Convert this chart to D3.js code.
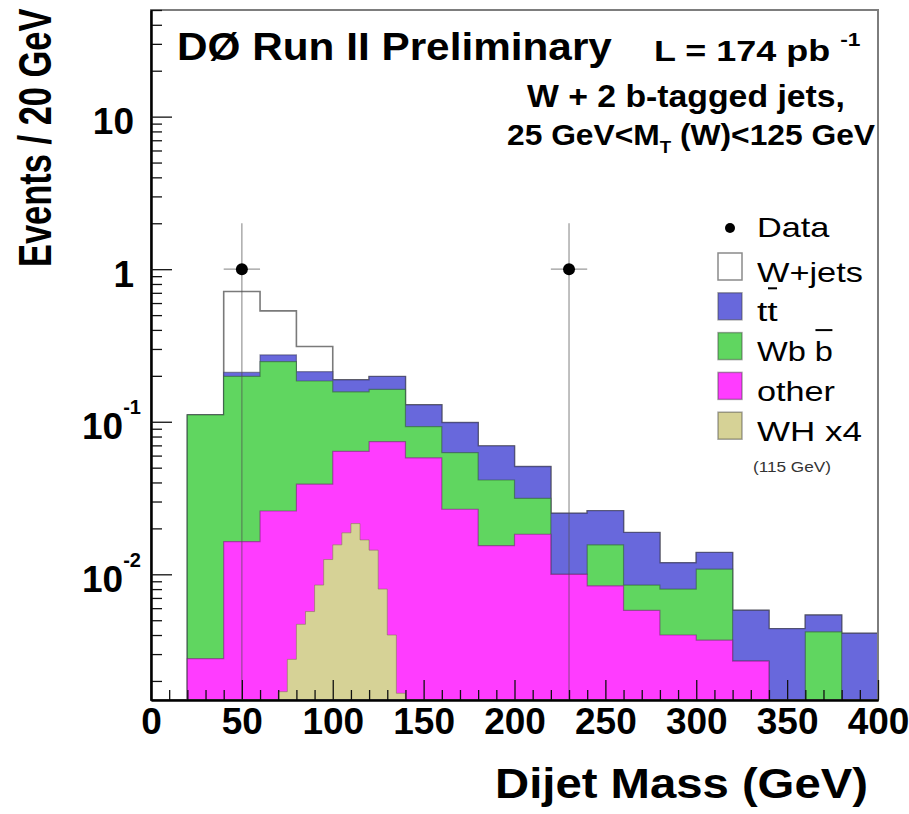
<!DOCTYPE html>
<html>
<head>
<meta charset="utf-8">
<script src="https://cdn.jsdelivr.net/npm/d3@7"></script>
<style>
  body { margin: 0; background: #fff; }
  svg { display: block; }
</style>
</head>
<body>
<svg id="chart" width="909" height="814"></svg>
<script>
// ---- Histogram contents (events per 20 GeV bin, lower bin edges in GeV) ----
const binLow = [20, 40, 60, 80, 100, 120, 140, 160, 180, 200, 220, 240, 260, 280, 300, 320, 340, 360, 380];
const binWidth = 20;
const otherBkg = [0.0028, 0.0164, 0.026, 0.039, 0.064, 0.074, 0.058, 0.0267, 0.0154, 0.0183, 0.0100, 0.0084, 0.0058, 0.0040, 0.0037, 0.0027, 0, 0, 0];
const wbbBkg   = [0.108, 0.182, 0.222, 0.146, 0.093, 0.089, 0.035, 0.036, 0.0261, 0.0132, 0, 0.0072, 0.0027, 0.0040, 0.0071, 0, 0, 0.0042, 0];
const ttbarBkg = [0, 0.012, 0.026, 0.028, 0.031, 0.035, 0.036, 0.036, 0.0279, 0.0193, 0.0151, 0.0105, 0.0103, 0.0039, 0.0031, 0.0031, 0.0044, 0.0012, 0.0041];
const wjetsBkg = [0, 0.503, 0.259, 0.098, 0, 0, 0, 0, 0, 0, 0, 0, 0, 0, 0, 0, 0, 0, 0];

// WH signal (m_H = 115 GeV) scaled by 4, 5 GeV bins
const whLow = [70, 75, 80, 85, 90, 95, 100, 105, 110, 115, 120, 125, 130, 135];
const whWidth = 5;
const whX4 = [0.0017, 0.00277, 0.0047, 0.0057, 0.0085, 0.0125, 0.0156, 0.0187, 0.0215, 0.0168, 0.0144, 0.0080, 0.0040, 0.00166];

// Observed events
const dataMass = [50, 230];
const dataEvents = [1, 1];
const dataErrUp = [1, 1];

// Axis ticks
const xMajorTicks = [0, 50, 100, 150, 200, 250, 300, 350, 400];
const yMajorTicks = [10, 1, 0.1, 0.01];
const yTickBase = ["10", "1", "10", "10"];
const yTickExp = ["", "", "-1", "-2"];

// Legend
const legendLabels = ["W+jets", "tt", "Wb b", "other", "WH x4"];
const legendWidths = [106, 21, 76, 78, 105];

const COLORS = {
  wjets: "#ffffff",
  ttbar: "#6868dc",
  wbb: "#60d660",
  other: "#ff3cff",
  wh: "#d6d296"
};
const FONT = "'Liberation Sans', Arial, Helvetica, sans-serif";

const svg = d3.select("#chart");
const W = 909, H = 814;
const plot = { left: 151, right: 878, top: 10, bottom: 700 };

const x = d3.scaleLinear().domain([0, 400]).range([plot.left, plot.right]);
const y = d3.scaleLog().domain([0.0015, 50]).range([plot.bottom, plot.top]).clamp(true);
const yv = v => (v > 0 ? y(v) : plot.bottom);

svg.append("rect").attr("width", W).attr("height", H).attr("fill", "#fff");

svg.append("defs").append("clipPath").attr("id", "plotClip")
  .append("rect")
  .attr("x", plot.left).attr("y", plot.top)
  .attr("width", plot.right - plot.left).attr("height", plot.bottom - plot.top);

const area = svg.append("g").attr("clip-path", "url(#plotClip)");

// Step outline of a histogram, closed down to the bottom of the frame
function stepPath(lows, width, vals) {
  const p = d3.path();
  p.moveTo(x(lows[0]), plot.bottom);
  lows.forEach((lo, i) => {
    p.lineTo(x(lo), yv(vals[i]));
    p.lineTo(x(lo + width), yv(vals[i]));
  });
  p.lineTo(x(lows[lows.length - 1] + width), plot.bottom);
  p.closePath();
  return p.toString();
}

// Cumulative stack: other, +Wbb, +ttbar, +W+jets
const cumOther = otherBkg.slice();
const cumWbb = cumOther.map((v, i) => v + wbbBkg[i]);
const cumTt = cumWbb.map((v, i) => v + ttbarBkg[i]);
const cumWj = cumTt.map((v, i) => v + wjetsBkg[i]);

const stackLayers = [
  { vals: cumWj, fill: COLORS.wjets, stroke: "#7a7a7a", sw: 1.6 },
  { vals: cumTt, fill: COLORS.ttbar, stroke: "rgba(50,50,90,0.55)", sw: 1.2 },
  { vals: cumWbb, fill: COLORS.wbb, stroke: "rgba(40,80,40,0.5)", sw: 1.2 },
  { vals: cumOther, fill: COLORS.other, stroke: "rgba(110,20,110,0.5)", sw: 1.2 }
];

area.selectAll("path.stack")
  .data(stackLayers)
  .join("path")
  .attr("class", "stack")
  .attr("d", d => stepPath(binLow, binWidth, d.vals))
  .attr("fill", d => d.fill)
  .attr("stroke", d => d.stroke)
  .attr("stroke-width", d => d.sw);

area.append("path")
  .attr("d", stepPath(whLow, whWidth, whX4))
  .attr("fill", COLORS.wh)
  .attr("stroke", "rgba(120,115,70,0.5)")
  .attr("stroke-width", 1);

// Data points with error bars
const dataPts = dataMass.map((m, i) => ({ m, v: dataEvents[i], up: dataErrUp[i] }));
const dataG = area.append("g");
dataG.selectAll("line.eh").data(dataPts).join("line")
  .attr("x1", d => x(d.m - binWidth / 2)).attr("x2", d => x(d.m + binWidth / 2))
  .attr("y1", d => y(d.v)).attr("y2", d => y(d.v))
  .attr("stroke", "#9a9a9a").attr("stroke-width", 1.2);
dataG.selectAll("line.ev").data(dataPts).join("line")
  .attr("x1", d => x(d.m)).attr("x2", d => x(d.m))
  .attr("y1", d => y(d.v + d.up)).attr("y2", plot.bottom)
  .attr("stroke", "rgba(80,80,80,0.6)").attr("stroke-width", 1.2);
dataG.selectAll("circle").data(dataPts).join("circle")
  .attr("cx", d => x(d.m)).attr("cy", d => y(d.v)).attr("r", 6)
  .attr("fill", "#000");

// Frame
svg.append("rect")
  .attr("x", plot.left).attr("y", plot.top)
  .attr("width", plot.right - plot.left).attr("height", plot.bottom - plot.top)
  .attr("fill", "none").attr("stroke", "#7d7d7d").attr("stroke-width", 2);

// X axis: ticks point inward
const xMinor = d3.range(0, 401, 10).filter(v => v % 50 !== 0);
const xAxisMinor = svg.append("g").attr("transform", `translate(0,${plot.bottom})`)
  .call(d3.axisBottom(x).tickValues(xMinor).tickSize(-10).tickSizeOuter(0).tickFormat(""));
const xAxisMajor = svg.append("g").attr("transform", `translate(0,${plot.bottom})`)
  .call(d3.axisBottom(x).tickValues(xMajorTicks).tickSize(-20).tickSizeOuter(0).tickPadding(8).tickFormat(d3.format("d")));
[xAxisMinor, xAxisMajor].forEach(g => {
  g.select(".domain").attr("stroke", "#000").attr("stroke-width", 2);
  g.selectAll(".tick line").attr("stroke", "#111").attr("stroke-width", 1.3);
});
xAxisMajor.selectAll(".tick text")
  .attr("font-family", FONT).attr("font-size", 37).attr("font-weight", "bold").attr("fill", "#000");

// Y axis (log): decade ticks plus 2..9 sub-ticks
const yMinor = [];
[0.001, 0.01, 0.1, 1, 10].forEach(dec => {
  for (let k = 2; k <= 9; k++) {
    const v = +(dec * k).toPrecision(3);
    if (v >= 0.0015 && v <= 50) yMinor.push(v);
  }
});
const yAxisMinor = svg.append("g").attr("transform", `translate(${plot.left},0)`)
  .call(d3.axisLeft(y).tickValues(yMinor).tickSize(-11).tickSizeOuter(0).tickFormat(""));
const yAxisMajor = svg.append("g").attr("transform", `translate(${plot.left},0)`)
  .call(d3.axisLeft(y).tickValues(yMajorTicks).tickSize(-21).tickSizeOuter(0).tickFormat(""));
[yAxisMinor, yAxisMajor].forEach(g => {
  g.select(".domain").attr("stroke", "#000").attr("stroke-width", 2);
  g.selectAll(".tick line").attr("stroke", "#111").attr("stroke-width", 1.3);
});
yAxisMajor.selectAll(".tick").each(function (d, i) {
  const t = d3.select(this).select("text")
    .text(null)
    .attr("font-family", FONT).attr("font-weight", "bold").attr("fill", "#000")
    .attr("font-size", 37)
    .attr("dy", 17)
    .attr("text-anchor", "end")
    .attr("x", yTickExp[i] ? -10 : -17);
  t.append("tspan").text(yTickBase[i]);
  if (yTickExp[i]) {
    t.append("tspan").attr("font-size", 20).attr("dy", -25).text(yTickExp[i]);
  }
});

// Text helper: set font size, then stretch horizontally to a target width
function stretchedText(parent, opt) {
  const g = parent.append("g");
  const t = g.append("text")
    .attr("font-family", FONT)
    .attr("font-size", opt.size)
    .attr("font-weight", opt.weight || "bold")
    .attr("fill", opt.fill || "#000");
  opt.build(t);
  const bb = t.node().getBBox();
  const k = opt.width / bb.width;
  let left = opt.x;
  if (opt.anchor === "middle") left = opt.x - opt.width / 2;
  if (opt.anchor === "end") left = opt.x - opt.width;
  g.attr("transform", `translate(${left - bb.x * k},${opt.y}) scale(${k},1)`);
  return { g, t, k };
}

// Header texts
stretchedText(svg, { x: 177, y: 60, width: 435, size: 38, build: t => t.text("DØ Run II Preliminary") });
stretchedText(svg, {
  x: 654, y: 61, width: 207, size: 30,
  build: t => { t.append("tspan").text("L = 174 pb "); t.append("tspan").attr("font-size", 19).attr("dy", -15).text("-1"); }
});
stretchedText(svg, { x: 527, y: 107, width: 318, size: 31, build: t => t.text("W + 2 b-tagged jets,") });
stretchedText(svg, {
  x: 507, y: 145, width: 369, size: 29,
  build: t => {
    t.append("tspan").text("25 GeV<M");
    t.append("tspan").attr("font-size", 17).attr("dy", 8).text("T");
    t.append("tspan").attr("dy", -8).text(" (W)<125 GeV");
  }
});

// Axis titles
stretchedText(svg, { x: 495, y: 798, width: 373, size: 42, build: t => t.text("Dijet Mass (GeV)") });
(function () {
  const g = svg.append("g");
  const t = g.append("text")
    .attr("font-family", FONT).attr("font-size", 47).attr("font-weight", "bold")
    .text("Events / 20 GeV");
  const bb = t.node().getBBox();
  const k = 259 / bb.width;
  g.attr("transform", `translate(51,267) rotate(-90) scale(${k},1) translate(${-bb.x},0)`);
})();

// Legend
const legend = svg.append("g");
legend.append("circle").attr("cx", 730).attr("cy", 228).attr("r", 5).attr("fill", "#000");
stretchedText(legend, { x: 757, y: 237, width: 73, size: 28, weight: "normal", build: t => t.text("Data") });

const legendFills = [COLORS.wjets, COLORS.ttbar, COLORS.wbb, COLORS.other, COLORS.wh];
legendLabels.forEach((lab, i) => {
  const top = 253 + i * 39.8;
  legend.append("rect")
    .attr("x", 718).attr("y", top).attr("width", 24).attr("height", 27)
    .attr("fill", legendFills[i])
    .attr("stroke", i === 0 ? "#8a8a8a" : "rgba(60,60,60,0.45)").attr("stroke-width", 1.5);
  const res = stretchedText(legend, {
    x: 757, y: top + 28.5, width: legendWidths[i], size: 28, weight: "normal",
    build: t => t.text(lab)
  });
  // overline on the antiquark symbol
  if (lab === "tt" || lab === "Wb b") {
    const node = res.t.node();
    const n = lab.length - 1;
    const x0 = node.getStartPositionOfChar(n).x;
    const x1 = node.getEndPositionOfChar(n).x;
    res.g.append("line")
      .attr("x1", x0 + 0.5).attr("x2", x1 - 0.5)
      .attr("y1", lab === "tt" ? -33 : -31).attr("y2", lab === "tt" ? -33 : -31)
      .attr("stroke", "#000").attr("stroke-width", 2);
  }
});
stretchedText(legend, {
  x: 792, y: 472, width: 78, size: 14, weight: "normal", anchor: "middle", fill: "#333",
  build: t => t.text("(115 GeV)")
});
</script>
</body>
</html>
